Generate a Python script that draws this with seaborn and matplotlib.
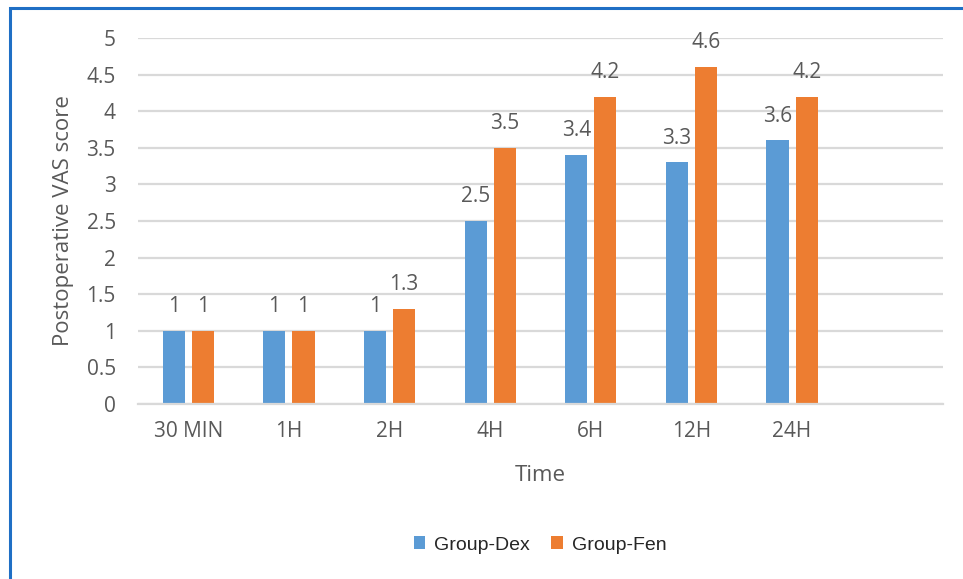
import matplotlib
matplotlib.use("Agg")
import matplotlib.pyplot as plt
from matplotlib.patches import Patch, Rectangle
import seaborn as sns
import pandas as pd

times = ["30 MIN", "1H", "2H", "4H", "6H", "12H", "24H"]
dex = [1, 1, 1, 2.5, 3.4, 3.3, 3.6]
fen = [1, 1, 1.3, 3.5, 4.2, 4.6, 4.2]
groups = ["Group-Dex", "Group-Fen"]
yticks = [0, 0.5, 1, 1.5, 2, 2.5, 3, 3.5, 4, 4.5, 5]
ytick_labels = ["0", "0.5", "1", "1.5", "2", "2.5", "3", "3.5", "4", "4.5", "5"]

BLUE = "#5B9BD5"
ORANGE = "#ED7D31"
GRID = "#D9D9D9"
TEXT = "#595959"

df = pd.DataFrame({
    "Time": times * 2,
    "Score": dex + fen,
    "Group": [groups[0]] * len(times) + [groups[1]] * len(times),
})

sns.set_theme(style="white")
plt.rcParams["font.family"] = ["Open Sans", "DejaVu Sans"]

fig = plt.figure(figsize=(9.63, 5.79), dpi=100)
ax = fig.add_axes([138 / 963, 1 - 404 / 579, (943 - 138) / 963, (404 - 38) / 579])

sns.barplot(data=df, x="Time", y="Score", hue="Group", order=times,
            hue_order=groups, palette=[BLUE, ORANGE], width=0.58, gap=0.24,
            saturation=1, linewidth=0, legend=False, ax=ax)

ax.set_xlim(-0.5, 7.5)
ax.set_ylim(0, 5)
ax.set_yticks(yticks)
ax.set_yticklabels(ytick_labels)
ax.yaxis.grid(True, color=GRID, linewidth=1.6)
ax.set_axisbelow(True)
for s in ["top", "right", "left"]:
    ax.spines[s].set_visible(False)
ax.spines["bottom"].set_color(GRID)
ax.spines["bottom"].set_linewidth(1.6)
ax.tick_params(axis="both", length=0, colors=TEXT, labelsize=15)
ax.tick_params(axis="y", pad=16)
ax.tick_params(axis="x", pad=12)

ax.set_xlabel("Time", fontsize=16, color=TEXT, labelpad=17)
ax.set_ylabel("Postoperative VAS score", fontsize=16, color=TEXT, labelpad=9)

for container, vals in zip(ax.containers, [dex, fen]):
    for bar, v in zip(container, vals):
        ax.annotate(f"{v:g}", (bar.get_x() + bar.get_width() / 2, v),
                    xytext=(0, 17.5), textcoords="offset points",
                    ha="center", va="center", fontsize=15, color=TEXT)

handles = [Patch(facecolor=BLUE, edgecolor="none"), Patch(facecolor=ORANGE, edgecolor="none")]
fig.legend(handles, groups, loc="center", bbox_to_anchor=(540 / 963, 1 - 545 / 579),
           ncol=2, frameon=False, handlelength=0.6, handleheight=0.6,
           handletextpad=0.45, columnspacing=1.1,
           prop={"family": "Liberation Sans", "size": 14}, labelcolor="#262626")

fig.patches.append(Rectangle((9.5 / 963, -0.05), 1.0, 1 - 8 / 579 + 0.05,
                             transform=fig.transFigure, fill=False,
                             edgecolor="#1F6FC5", linewidth=2.2))

fig.savefig("out.png", dpi=100)
